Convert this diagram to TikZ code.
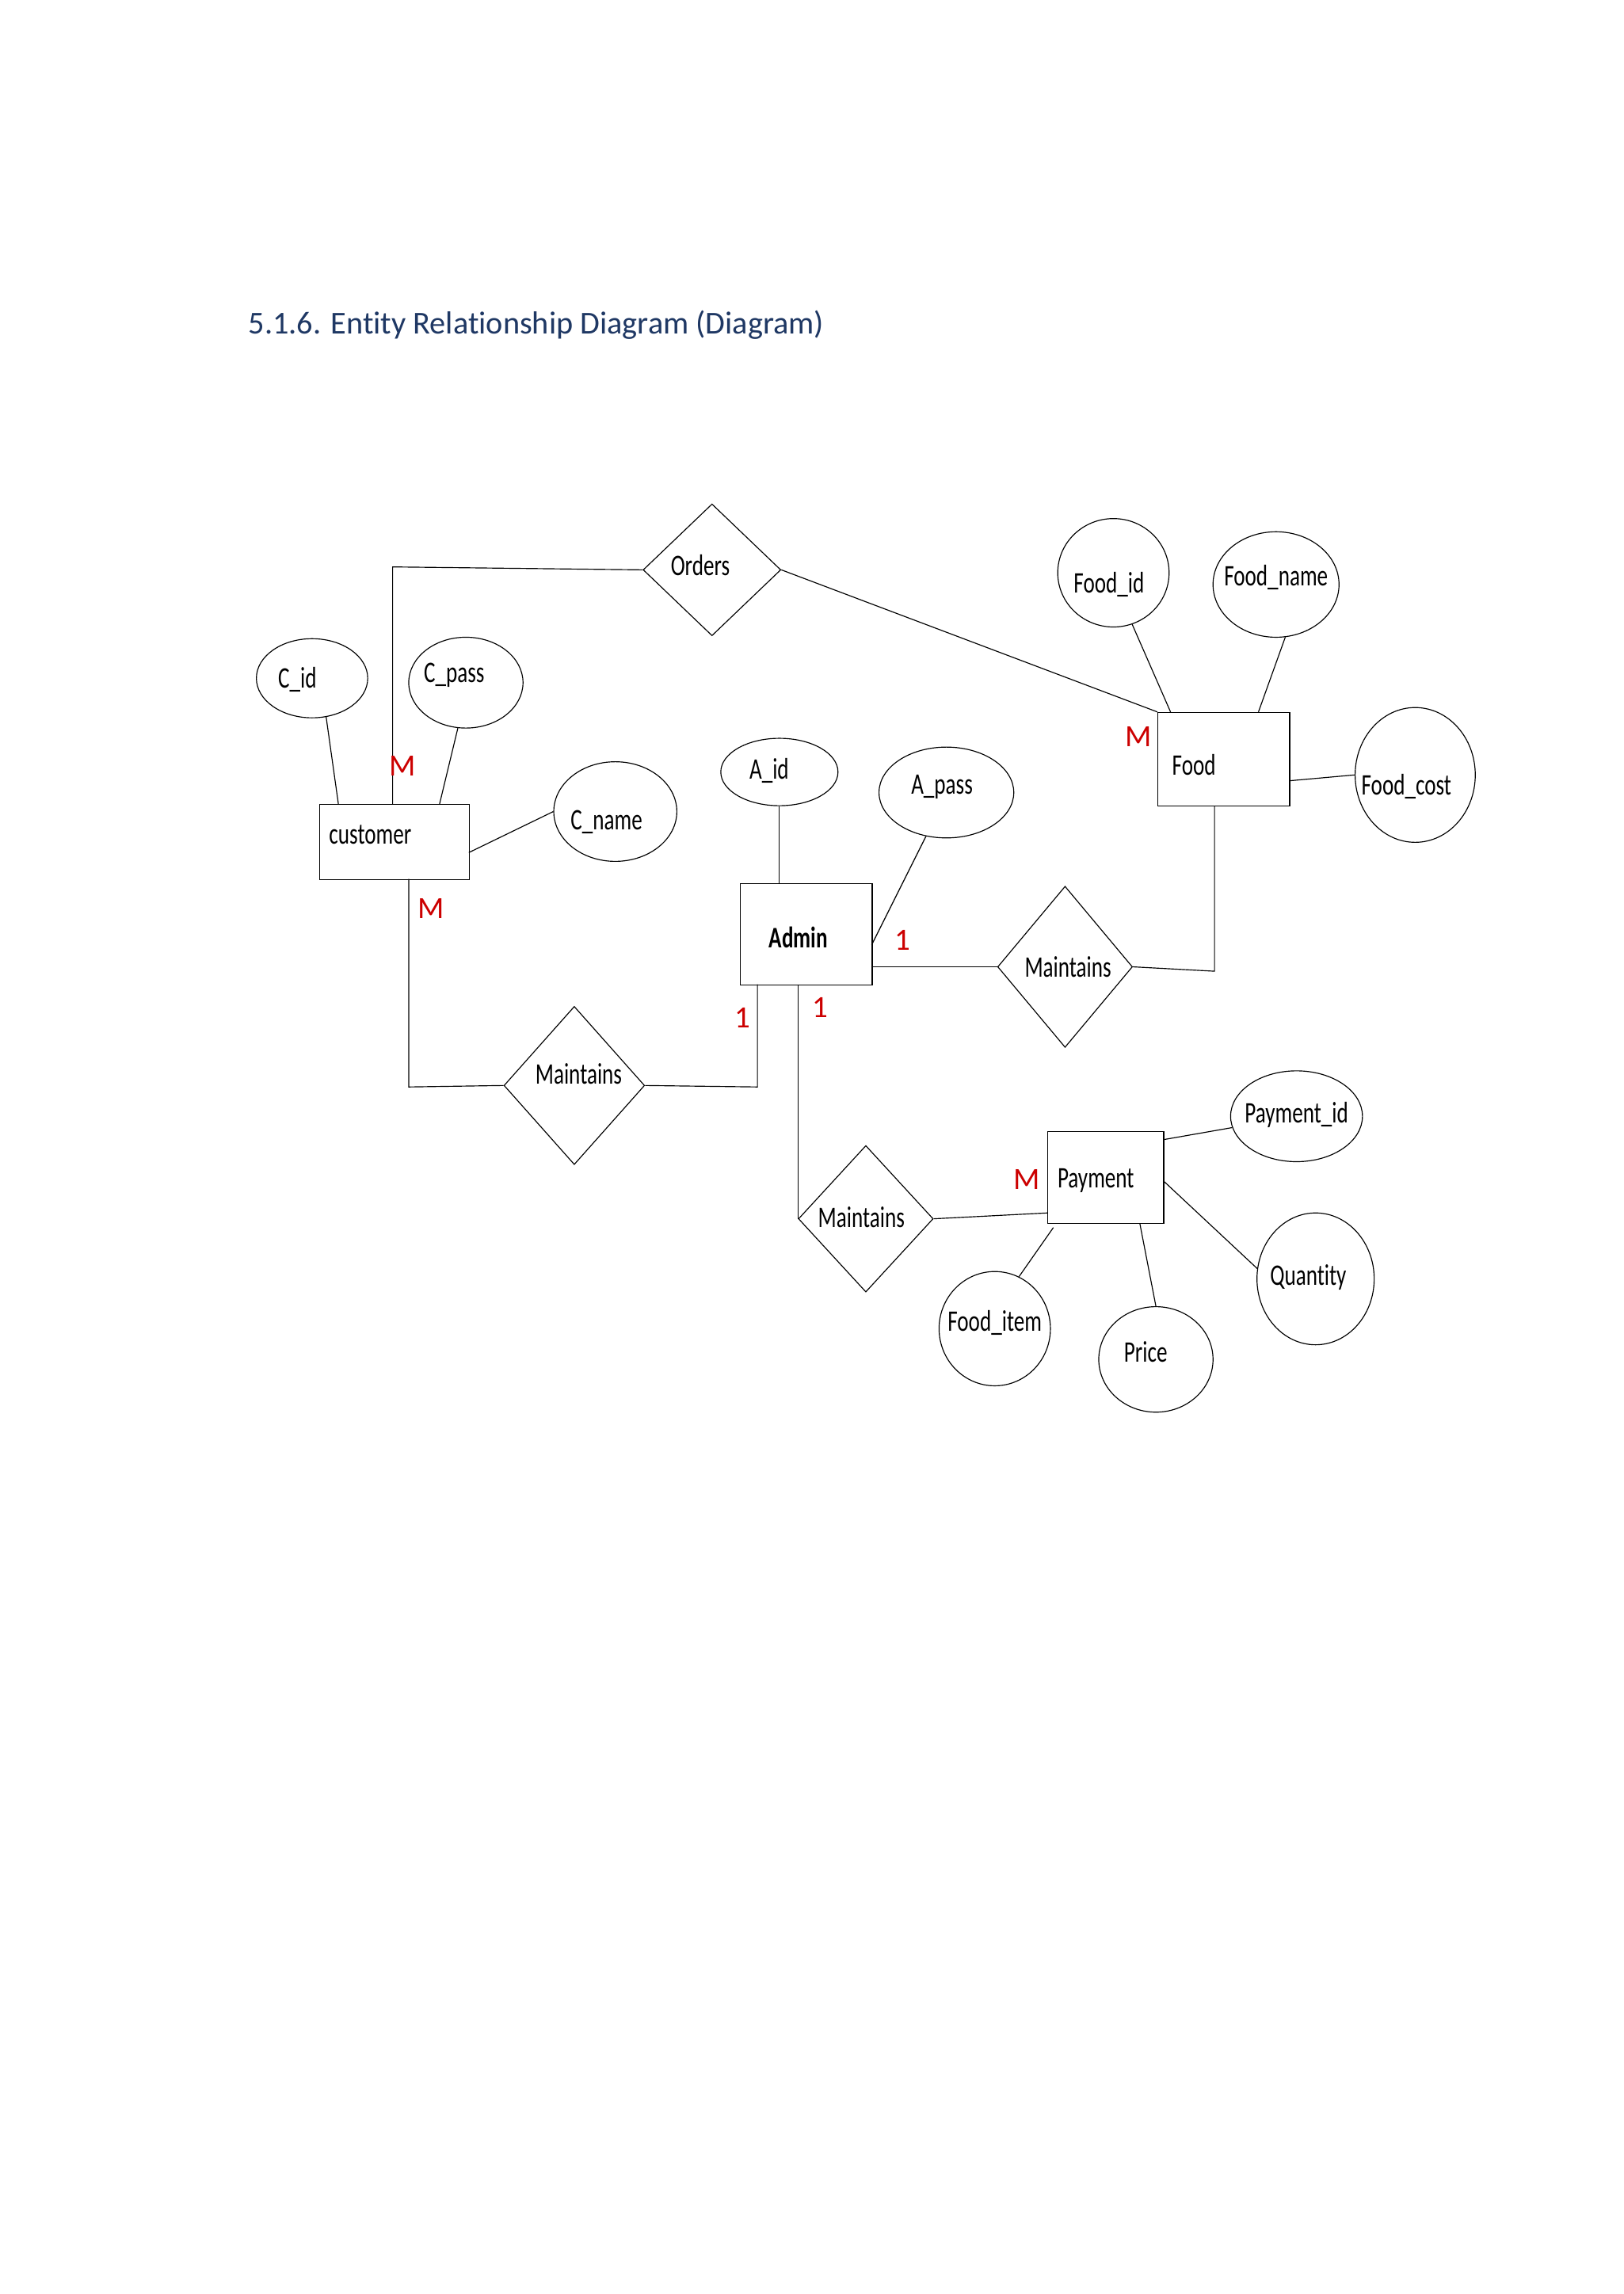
\documentclass[tikz,border=0pt]{standalone}
\usepackage{fontspec}
\setmainfont{Carlito}[Ligatures=CommonOff]
\usetikzlibrary{shapes.geometric}
\newcommand{\nar}[1]{\scalebox{0.72}[1]{#1}}
\tikzset{
 ent/.style={draw,rectangle,inner sep=0pt,anchor=north west},
 rel/.style={draw,diamond,inner sep=0pt},
 att/.style={draw,ellipse,inner sep=0pt},
 lab/.style={font=\fontsize{29}{32}\selectfont},
 card/.style={font=\fontsize{30}{32}\selectfont,text=red!80!black},
 every path/.style={line width=0.9pt}
}
\begin{document}
\begin{tikzpicture}[x=0.05cm,y=-0.05cm]
\useasboundingbox (0,0) rectangle (1108,1566);
\node[anchor=west,font=\fontsize{31}{34}\selectfont,text={rgb,255:red,31;green,56;blue,100}] (title) at (167,222) {5.1.6. Entity Relationship Diagram (Diagram)};
% entities
\node[ent,minimum width=102*0.05cm,minimum height=51*0.05cm] (cust) at (218,549) {};
\node[lab,anchor=west] (custt) at (222,570) {\nar{customer}};
\node[ent,minimum width=90*0.05cm,minimum height=69*0.05cm] (admin) at (505,603) {};
\node[lab] (admint) at (545,640) {\nar{\textbf{Admin}}};
\node[ent,minimum width=90*0.05cm,minimum height=64*0.05cm] (food) at (790,486) {};
\node[lab] (foodt) at (815,522) {\nar{Food}};
\node[ent,minimum width=79*0.05cm,minimum height=63*0.05cm] (pay) at (715,772) {};
\node[lab] (payt) at (748,806) {\nar{Payment}};
% relationships
\node[rel,minimum width=94*0.05cm,minimum height=90*0.05cm] (orders) at (486,389) {};
\node[lab] (orderst) at (478,386) {\nar{Orders}};
\node[rel,minimum width=92*0.05cm,minimum height=110*0.05cm] (m1) at (727,660) {};
\node[lab] (m1t) at (729,660) {\nar{Maintains}};
\node[rel,minimum width=96*0.05cm,minimum height=108*0.05cm] (m2) at (392,741) {};
\node[lab] (m2t) at (395,733) {\nar{Maintains}};
\node[rel,minimum width=92*0.05cm,minimum height=100*0.05cm] (m3) at (591,832) {};
\node[lab] (m3t) at (588,831) {\nar{Maintains}};
% attributes
\node[att,minimum width=76*0.05cm,minimum height=54*0.05cm] (cid) at (213,463) {};
\node[lab] (cidt) at (203,464) {\nar{C\_id}};
\node[att,minimum width=78*0.05cm,minimum height=62*0.05cm] (cpass) at (318,466) {};
\node[lab] (cpasst) at (310,461) {\nar{C\_pass}};
\node[att,minimum width=84*0.05cm,minimum height=68*0.05cm] (cname) at (420,554) {};
\node[lab] (cnamet) at (414,561) {\nar{C\_name}};
\node[att,minimum width=80*0.05cm,minimum height=46*0.05cm] (aid) at (532,527) {};
\node[lab] (aidt) at (525,526) {\nar{A\_id}};
\node[att,minimum width=92*0.05cm,minimum height=62*0.05cm] (apass) at (646,541) {};
\node[lab] (apasst) at (643,537) {\nar{A\_pass}};
\node[att,minimum width=76*0.05cm,minimum height=74*0.05cm] (fid) at (760,391) {};
\node[lab] (fidt) at (757,399) {\nar{Food\_id}};
\node[att,minimum width=86*0.05cm,minimum height=72*0.05cm] (fname) at (871,399) {};
\node[lab] (fnamet) at (871,394) {\nar{Food\_name}};
\node[att,minimum width=82*0.05cm,minimum height=92*0.05cm] (fcost) at (966,529) {};
\node[lab] (fcostt) at (960,537) {\nar{Food\_cost}};
\node[att,minimum width=90*0.05cm,minimum height=62*0.05cm] (pid) at (885,762) {};
\node[lab] (pidt) at (885,761) {\nar{Payment\_id}};
\node[att,minimum width=80*0.05cm,minimum height=90*0.05cm] (qty) at (898,873) {};
\node[lab] (qtyt) at (893,872) {\nar{Quantity}};
\node[att,minimum width=76*0.05cm,minimum height=78*0.05cm] (fitem) at (679,907) {};
\node[lab] (fitemt) at (679,903) {\nar{Food\_item}};
\node[att,minimum width=78*0.05cm,minimum height=72*0.05cm] (price) at (789,928) {};
\node[lab] (pricet) at (782,923) {\nar{Price}};
% connectors
\coordinate (k1) at (268,387);
\draw (268,549) -- (k1) -- (orders.west);
\draw (orders.east) -- (food.north west);
\draw (cid.-70) -- (231,549);
\draw (cpass.-100) -- (300,549);
\draw (320,582) -- (cname.west);
\coordinate (k2) at (279,742);
\draw (279,600) -- (k2) -- (m2.west);
\coordinate (k3) at (517,742);
\draw (m2.east) -- (k3) -- (517,672);
\coordinate (k4) at (545,832);
\draw (545,672) -- (k4) -- (m3.west);
\draw (m3.east) -- (715,828);
\draw (532,603) -- (aid.south);
\draw (595,645) -- (apass.-115);
\draw (595,660) -- (m1.west);
\coordinate (k5) at (829,663);
\draw (m1.east) -- (k5) -- (829,550);
\draw (fid.-70) -- (799,486);
\draw (fname.-80) -- (859,486);
\draw (880,533) -- (fcost.west);
\draw (794,778) -- (pid.-170);
\draw (794,806) -- (qty.170);
\draw (778,835) -- (price.north);
\draw (719,838) -- (fitem.65);
% cardinalities
\node[card] (c1) at (275,523) {M};
\node[card] (c2) at (294,620) {M};
\node[card] (c3) at (777,503) {M};
\node[card] (c4) at (616,642) {1};
\node[card] (c5) at (507,695) {1};
\node[card] (c6) at (560,688) {1};
\node[card] (c7) at (701,805) {M};
\end{tikzpicture}
\end{document}
